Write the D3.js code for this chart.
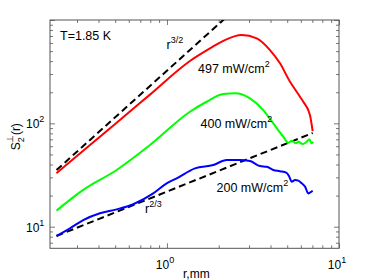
<!DOCTYPE html>
<html>
<head>
<meta charset="utf-8">
<script src="https://cdn.jsdelivr.net/npm/d3@7"></script>
<style>
  html, body { margin: 0; padding: 0; background: #fff; }
  text { font-family: "Liberation Sans", Arial, sans-serif; fill: #000; }
</style>
</head>
<body>
<svg id="chart" width="374" height="280"></svg>
<script>
// data (r in mm, S2 in arbitrary units)
var r497 = [0.228, 0.357, 0.510, 0.797, 1.36, 1.778, 2.125, 2.719, 3.323, 3.97, 4.539, 5.19, 5.425, 5.934, 6.20, 6.783, 7.03];
var s497 = [32.9, 61.7, 101.5, 189.7, 401, 531, 629, 715, 664, 512, 381, 253, 226, 181, 162, 120, 84];

var r400 = [0.228, 0.326, 0.510, 0.797, 1.36, 1.701, 2.125, 2.485, 3.038, 3.63, 4.15, 4.746, 5.073, 5.309, 5.63, 5.80, 6.15, 6.49, 6.72, 6.94, 7.08];
var s400 = [14.3, 22.7, 35.4, 61.7, 129.5, 161.8, 192, 195, 174.5, 134.5, 100, 74.2, 64.9, 67.9, 64.1, 66.4, 63.1, 66.4, 70.0, 64.1, 66.4];

var r200 = [0.228, 0.273, 0.326, 0.408, 0.510, 0.637, 0.832, 0.996, 1.139, 1.455, 1.858, 2.224, 2.657, 3.038, 3.473, 3.80, 4.15, 4.54, 4.96, 5.14, 5.31, 5.55, 5.80, 6.07, 6.35, 6.63, 6.78, 7.03];
var s200 = [8.13, 9.65, 11.6, 13.5, 14.7, 16.5, 21.0, 26.3, 29.4, 36.7, 39.5, 44.2, 44.2, 43.2, 38.6, 38.0, 35.4, 34.4, 33.2, 30.5, 27.2, 28.3, 27.9, 26.3, 24.4, 21.0, 21.4, 22.3];

// power-law guide lines
var rFit32 = [0.228, 2.5];
var sFit32 = [35.3, 1277];
var rFit23 = [0.228, 7.03];
var sFit23 = [8.13, 80.6];

var xMajor = [1, 10];
var xMinor = [0.3, 0.4, 0.5, 0.6, 0.7, 0.8, 0.9, 2, 3, 4, 5, 6, 7, 8, 9];
var yMajor = [10, 100, 1000];
var yMinor = [7, 8, 9, 20, 30, 40, 50, 60, 70, 80, 90, 200, 300, 400, 500, 600, 700, 800, 900];
var xLabels = [{v: 1, e: "0"}, {v: 10, e: "1"}];
var yLabels = [{v: 10, e: "1"}, {v: 100, e: "2"}];

var svg = d3.select("#chart");
var mLeft = 50, mRight = 339, mTop = 20, mBottom = 248.3;

var x = d3.scaleLog().domain([0.209, 10]).range([mLeft, mRight]);
var y = d3.scaleLog().domain([6.18, 1000]).range([mBottom, mTop]);

svg.append("clipPath").attr("id", "clip")
  .append("rect").attr("x", mLeft).attr("y", mTop)
  .attr("width", mRight - mLeft).attr("height", mBottom - mTop);

// axes, ticks pointing inward on all four sides
function addAxis(axis, tx, ty, vals, size) {
  var g = svg.append("g").attr("transform", "translate(" + tx + "," + ty + ")")
    .call(axis.tickValues(vals).tickSize(size).tickFormat(""));
  g.select(".domain").remove();
  g.selectAll("line").attr("stroke", "#555").attr("stroke-width", 0.8);
}
addAxis(d3.axisBottom(x), 0, mBottom, xMajor, -5);
addAxis(d3.axisBottom(x), 0, mBottom, xMinor, -3);
addAxis(d3.axisTop(x), 0, mTop, xMajor, -5);
addAxis(d3.axisTop(x), 0, mTop, xMinor, -3);
addAxis(d3.axisLeft(y), mLeft, 0, yMajor, -5);
addAxis(d3.axisLeft(y), mLeft, 0, yMinor, -3);
addAxis(d3.axisRight(y), mRight, 0, yMajor, -5);
addAxis(d3.axisRight(y), mRight, 0, yMinor, -3);

svg.append("rect").attr("x", mLeft).attr("y", mTop)
  .attr("width", mRight - mLeft).attr("height", mBottom - mTop)
  .attr("fill", "none").attr("stroke", "#555").attr("stroke-width", 1);

// tick labels with exponents
xLabels.forEach(function (d) {
  var t = svg.append("text").attr("x", x(d.v) - 2).attr("y", 269)
    .attr("text-anchor", "middle").attr("font-size", 12).text("10");
  t.append("tspan").attr("dy", -6).attr("font-size", 9).text(d.e);
});
yLabels.forEach(function (d) {
  var t = svg.append("text").attr("x", 26).attr("y", y(d.v) + 5)
    .attr("font-size", 12).text("10");
  t.append("tspan").attr("dy", -6).attr("font-size", 9).text(d.e);
});

// axis titles
svg.append("text").attr("x", 183).attr("y", 277.5).attr("font-size", 12).text("r,mm");

var yt = svg.append("text")
  .attr("transform", "translate(20," + ((mTop + mBottom) / 2 + 16) + ") rotate(-90)")
  .attr("font-size", 12);
yt.append("tspan").text("S");
yt.append("tspan").attr("dy", 4).attr("font-size", 9).text("2");
yt.append("tspan").attr("dx", -6).attr("dy", -11).attr("font-size", 9).text("\u22a5");
yt.append("tspan").attr("dy", 7).text("(r)");

// curves
var plot = svg.append("g").attr("clip-path", "url(#clip)");
var line = d3.line().x(function (d) { return x(d[0]); }).y(function (d) { return y(d[1]); });

function series(rs, ss) { return rs.map(function (r, i) { return [r, ss[i]]; }); }

plot.append("path").datum(series(rFit32, sFit32)).attr("d", line)
  .attr("fill", "none").attr("stroke", "#000").attr("stroke-width", 2).attr("stroke-dasharray", "7,4");
plot.append("path").datum(series(rFit23, sFit23)).attr("d", line)
  .attr("fill", "none").attr("stroke", "#000").attr("stroke-width", 2).attr("stroke-dasharray", "7,4");

var smooth = d3.line().curve(d3.curveMonotoneX)
  .x(function (d) { return x(d[0]); }).y(function (d) { return y(d[1]); });

plot.append("path").datum(series(r497, s497)).attr("d", smooth)
  .attr("fill", "none").attr("stroke", "#ff0000").attr("stroke-width", 2);
plot.append("path").datum(series(r400, s400)).attr("d", smooth)
  .attr("fill", "none").attr("stroke", "#00ff00").attr("stroke-width", 2);
plot.append("path").datum(series(r200, s200)).attr("d", smooth)
  .attr("fill", "none").attr("stroke", "#0000ff").attr("stroke-width", 2);

// annotations
function label(tx, ty, base, sup) {
  var t = svg.append("text").attr("x", tx).attr("y", ty).attr("font-size", 12.5).text(base);
  if (sup) t.append("tspan").attr("dy", -6).attr("font-size", 9).text(sup);
}
label(60, 40, "T=1.85 K");
label(166.5, 49, "r", "3/2");
label(145, 213, "r", "2/3");
label(198, 73, "497 mW/cm", "2");
label(200.5, 128, "400 mW/cm", "2");
label(216.5, 191.5, "200 mW/cm", "2");
</script>
</body>
</html>
